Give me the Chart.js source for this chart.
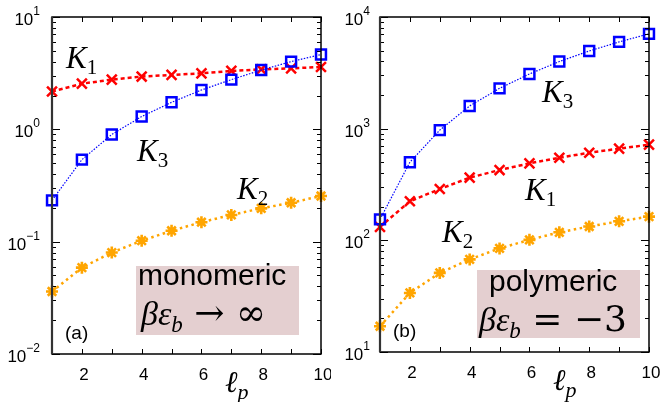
<!DOCTYPE html>
<html lang="en">
<head>
    <meta charset="UTF-8">
    <title>K1 K2 K3 versus persistence length</title>
    <script src="https://cdn.jsdelivr.net/npm/chart.js"></script>
    <style>
        body { margin: 0; background: #fff; }
        canvas { position: absolute; top: 0; }
    </style>
</head>
<body>
    <canvas id="left" width="331" height="402" style="left:0"></canvas>
    <canvas id="right" width="332" height="402" style="left:331px"></canvas>

    <script>
        // persistence length values (x)
        const lp = [1, 2, 3, 4, 5, 6, 7, 8, 9, 10];
        const xTicks = [2, 4, 6, 8, 10];

        // (a) monomeric
        const aK1 = [2.17, 2.55, 2.77, 2.95, 3.05, 3.15, 3.31, 3.42, 3.49, 3.59];
        const aK3 = [0.233, 0.537, 0.90, 1.30, 1.74, 2.24, 2.77, 3.37, 4.01, 4.63];
        const aK2 = [0.036, 0.0587, 0.080, 0.102, 0.125, 0.149, 0.173, 0.198, 0.222, 0.255];
        const aExp = [-2, -1, 0, 1];

        // (b) polymeric
        const bK1 = [132, 224, 288, 364, 426, 489, 549, 609, 662, 719];
        const bK3 = [154, 501, 971, 1597, 2297, 3088, 3990, 4965, 5982, 7066];
        const bK2 = [17.0, 33.8, 51.1, 67.5, 84.7, 101, 118, 133, 148, 163];
        const bExp = [1, 2, 3, 4];

        const SERIF = '"Liberation Serif", "DejaVu Serif", serif';
        const DSERIF = '"DejaVu Serif", serif';
        const SANS = '"Liberation Sans", Arial, sans-serif';

        // draw a row of text pieces: [text, font, dy]
        function runs(ctx, x, y, parts) {
            for (const [t, f, dy] of parts) {
                ctx.font = f;
                ctx.fillText(t, x, y + (dy || 0));
                x += ctx.measureText(t).width;
            }
        }

        function kLabel(ctx, x, y, n) {
            runs(ctx, x, y, [['K', 'italic 31px ' + SERIF, 0], [n, '21px ' + SERIF, 6]]);
        }

        // frame, inward ticks, tick labels and annotations
        const decor = {
            id: 'decor',
            afterDraw(chart, args, o) {
                const { ctx, chartArea: a, scales: { x, y } } = chart;
                ctx.save();
                ctx.strokeStyle = '#000';
                ctx.fillStyle = '#000';
                const seg = (x1, y1, x2, y2) => { ctx.beginPath(); ctx.moveTo(x1, y1); ctx.lineTo(x2, y2); ctx.stroke(); };

                // x ticks
                ctx.lineWidth = 1;
                for (const v of lp) {
                    const px = Math.round(x.getPixelForValue(v)) + 0.5;
                    seg(px, a.bottom, px, a.bottom - 5);
                    seg(px, a.top, px, a.top + 5);
                }
                // y ticks, major and minor
                const ex = o.exps;
                for (let i = 0; i < ex.length; i++) {
                    const e = ex[i];
                    const top = i === ex.length - 1;
                    for (let m = 1; m < (top ? 2 : 10); m++) {
                        const py = Math.round(y.getPixelForValue(m * Math.pow(10, e))) + 0.5;
                        const L = m === 1 ? 8 : 4;
                        seg(a.left, py, a.left + L, py);
                        seg(a.right, py, a.right - L, py);
                    }
                }
                // frame
                ctx.lineWidth = 1.5;
                ctx.strokeRect(a.left, a.top, a.right - a.left, a.bottom - a.top);
                ctx.lineWidth = 2.2;
                ctx.strokeStyle = '#333';
                seg(a.left, a.top, a.left, a.bottom);

                // x tick labels
                ctx.textAlign = 'center';
                ctx.textBaseline = 'alphabetic';
                ctx.font = '17px ' + SANS;
                for (const v of xTicks) ctx.fillText(String(v), x.getPixelForValue(v) + 2, a.bottom + 26);

                // y tick labels 10^e
                ctx.textAlign = 'left';
                for (const e of ex) {
                    const py = y.getPixelForValue(Math.pow(10, e));
                    const sup = String(e).replace('-', '\u2212');
                    ctx.font = '12px ' + SANS;
                    const ws = ctx.measureText(sup).width;
                    ctx.font = '17px ' + SANS;
                    const wb = ctx.measureText('10').width;
                    const x0 = a.left - o.labelGap - ws - wb;
                    runs(ctx, x0, py + 8, [['10', '17px ' + SANS, 0], [sup, '12px ' + SANS, -10]]);
                }

                // axis title l_p
                const tx = a.left + 173;
                runs(ctx, tx, a.bottom + 38, [['\u2113', 'italic 30px ' + SERIF, 0], ['p', 'italic 22px ' + SERIF, 7]]);

                // panel tag
                ctx.font = '19px ' + SANS;
                ctx.fillText(o.tag, a.left + 13, a.bottom - 15);

                // curve labels
                for (const k of o.keys) kLabel(ctx, k[0], k[1], k[2]);

                // shaded box with regime text
                const b = o.box;
                ctx.fillStyle = '#e4cfd0';
                ctx.fillRect(b.x, b.y, b.w, b.h);
                ctx.fillStyle = '#000';
                ctx.font = '30px ' + SANS;
                ctx.textAlign = 'left';
                ctx.fillText(b.word, b.wx, b.wy);
                runs(ctx, b.mx, b.my, b.math);
                ctx.restore();
            }
        };

        function makeChart(id, k1, k2, k3, yMin, yMax, pad, opts) {
            const ctx = document.getElementById(id).getContext('2d');
            return new Chart(ctx, {
                type: 'line',
                data: {
                    labels: lp,
                    datasets: [{
                        label: 'K3',
                        data: k3,
                        borderColor: '#0000ff',
                        borderWidth: 1.2,
                        borderDash: [1.5, 1.5],
                        pointStyle: 'rect',
                        pointRadius: 7,
                        pointBorderWidth: 2.5,
                        pointBackgroundColor: 'rgba(0,0,0,0)',
                        pointBorderColor: '#0000ff'
                    }, {
                        label: 'K1',
                        data: k1,
                        borderColor: '#ff0000',
                        borderWidth: 2.5,
                        borderDash: [4, 3],
                        pointStyle: 'crossRot',
                        pointRadius: 7,
                        pointBorderWidth: 2.5,
                        pointBorderColor: '#ff0000'
                    }, {
                        label: 'K2',
                        data: k2,
                        borderColor: '#ffa500',
                        borderWidth: 2.5,
                        borderDash: [2.5, 3.5],
                        pointStyle: 'star',
                        pointRadius: 6,
                        pointBorderWidth: 2.6,
                        pointBorderColor: '#ffa500'
                    }]
                },
                options: {
                    responsive: false,
                    animation: false,
                    devicePixelRatio: 1,
                    clip: false,
                    layout: { padding: pad },
                    plugins: { legend: { display: false }, tooltip: { enabled: false }, decor: opts },
                    scales: {
                        x: { type: 'linear', min: 1, max: 10, display: false },
                        y: { type: 'logarithmic', min: yMin, max: yMax, display: false }
                    }
                },
                plugins: [decor]
            });
        }

        makeChart('left', aK1, aK2, aK3, 0.01, 10,
            { left: 52, right: 10, top: 17, bottom: 48 },
            {
                exps: aExp, labelGap: 12, tag: '(a)',
                keys: [[66, 68, '1'], [137, 161, '3'], [237, 199, '2']],
                box: {
                    x: 136, y: 266, w: 163, h: 69,
                    word: 'monomeric', wx: 138, wy: 285,
                    mx: 141, my: 325,
                    math: [['\u03b2\u03b5', 'italic 34px ' + SERIF, 0], ['b', 'italic 23px ' + SERIF, 7],
                        [' \u2192 \u221e', '36px ' + DSERIF, 0]]
                }
            });

        makeChart('right', bK1, bK2, bK3, 10, 10000,
            { left: 49, right: 14, top: 17, bottom: 50 },
            {
                exps: bExp, labelGap: 10, tag: '(b)',
                keys: [[211, 102, '3'], [194, 200, '1'], [111, 242, '2']],
                box: {
                    x: 146, y: 270, w: 163, h: 68,
                    word: 'polymeric', wx: 158, wy: 291,
                    mx: 148, my: 331,
                    math: [['\u03b2\u03b5', 'italic 34px ' + SERIF, 0], ['b', 'italic 23px ' + SERIF, 7],
                        [' = \u22123', '36px ' + DSERIF, 0]]
                }
            });
    </script>
</body>
</html>
